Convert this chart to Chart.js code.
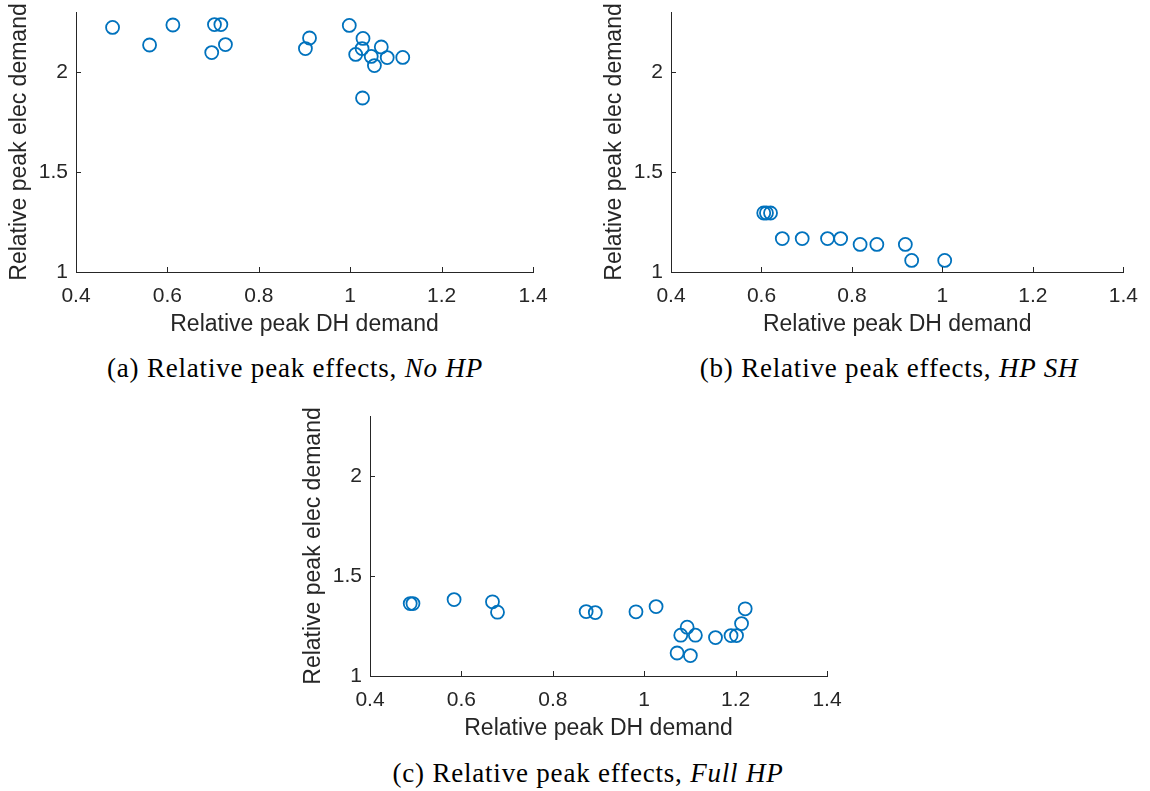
<!DOCTYPE html>
<html>
<head>
<meta charset="utf-8">
<script src="https://cdn.jsdelivr.net/npm/chart.js@4.4.0/dist/chart.umd.min.js"></script>
<style>
  html, body { margin: 0; padding: 0; background: #fff; }
  body { width: 1150px; height: 791px; position: relative; overflow: hidden; }
  .panel { position: absolute; width: 560px; height: 340px; }
  .caption {
    position: absolute;
    transform: translate(-50%, -50%);
    white-space: nowrap;
    font-family: "Liberation Serif", "Times New Roman", serif;
    font-size: 27px;
    letter-spacing: 0.8px;
    color: #000;
  }
</style>
</head>
<body>
<div class="panel" style="left:0;top:0"><canvas id="chart-nohp"></canvas></div>
<div class="panel" style="left:595px;top:0;width:555px"><canvas id="chart-hpsh"></canvas></div>
<div class="panel" style="left:294px;top:404px"><canvas id="chart-fullhp"></canvas></div>

<div class="caption" style="left:295px;top:368px">(a) Relative peak effects, <i>No HP</i></div>
<div class="caption" style="left:889px;top:368px">(b) Relative peak effects, <i>HP SH</i></div>
<div class="caption" style="left:588px;top:773px">(c) Relative peak effects, <i>Full HP</i></div>

<script>
// relative peak DH demand (x) vs relative peak elec demand (y)
const noHpX = [0.480, 0.561, 0.612, 0.703, 0.717, 0.697, 0.727, 0.902, 0.911, 0.998,
               1.028, 1.026, 1.012, 1.046, 1.068, 1.053, 1.081, 1.115, 1.027];
const noHpY = [2.223, 2.135, 2.235, 2.237, 2.237, 2.097, 2.137, 2.117, 2.170, 2.233,
               2.168, 2.117, 2.088, 2.078, 2.125, 2.032, 2.072, 2.073, 1.870];

const hpShX = [0.605, 0.611, 0.620, 0.646, 0.690, 0.746, 0.775, 0.818, 0.855, 0.918, 0.932, 1.005];
const hpShY = [1.295, 1.295, 1.295, 1.167, 1.167, 1.167, 1.167, 1.138, 1.138, 1.138, 1.058, 1.058];

const fullHpX = [0.488, 0.494, 0.584, 0.668, 0.679, 0.873, 0.893, 0.982, 1.026, 1.072,
                 1.080, 1.094, 1.101, 1.112, 1.156, 1.190, 1.202, 1.213, 1.221];
const fullHpY = [1.362, 1.362, 1.382, 1.371, 1.319, 1.322, 1.317, 1.321, 1.347, 1.115,
                 1.204, 1.244, 1.102, 1.204, 1.192, 1.202, 1.202, 1.262, 1.336];

const xRange = [0.4, 1.4];
const xStep = 0.2;
const yRange = [1, 2.3];
const yStep = 0.5;

const xLabel = 'Relative peak DH demand';
const yLabel = 'Relative peak elec demand';

const axisColor = '#262626';
const markerColor = '#0072BD';

Chart.defaults.font.family = '"Liberation Sans", Arial, sans-serif';
Chart.defaults.color = axisColor;

// MATLAB-style tick marks pointing into the plot area
const innerTicks = {
    id: 'innerTicks',
    afterDatasetsDraw(chart) {
        const { ctx, chartArea, scales: { x, y } } = chart;
        ctx.save();
        ctx.strokeStyle = axisColor;
        ctx.lineWidth = 1;
        ctx.beginPath();
        x.ticks.forEach(t => {
            const px = Math.round(x.getPixelForValue(t.value)) + 0.5;
            ctx.moveTo(px, chartArea.bottom);
            ctx.lineTo(px, chartArea.bottom - 5);
        });
        y.ticks.forEach(t => {
            const py = Math.round(y.getPixelForValue(t.value)) + 0.5;
            ctx.moveTo(chartArea.left, py);
            ctx.lineTo(chartArea.left + 5, py);
        });
        ctx.stroke();
        ctx.restore();
    }
};

// 1 instead of 1.0, 1.5 stays 1.5
const plainNumber = v => String(Number(v.toFixed(2)));

function toPoints(xs, ys) {
    return xs.map((v, i) => ({ x: v, y: ys[i] }));
}

function createChart(id, xs, ys, rightPad) {
    const ctx = document.getElementById(id).getContext('2d');
    return new Chart(ctx, {
        type: 'scatter',
        data: {
            datasets: [{
                data: toPoints(xs, ys),
                borderColor: markerColor,
                backgroundColor: 'rgba(0,0,0,0)',
                pointStyle: 'circle',
                pointRadius: 6.5,
                pointBorderWidth: 1.8,
                clip: false
            }]
        },
        options: {
            responsive: true,
            maintainAspectRatio: false,
            animation: false,
            events: [],
            layout: { padding: { top: 12, right: rightPad, left: 0, bottom: 0 } },
            plugins: { legend: { display: false }, tooltip: { enabled: false } },
            scales: {
                x: {
                    type: 'linear',
                    min: xRange[0],
                    max: xRange[1],
                    afterFit(scale) { scale.height = 68; },
                    ticks: { stepSize: xStep, padding: 12, font: { size: 21 }, color: axisColor, maxRotation: 0, callback: plainNumber },
                    grid: { drawOnChartArea: false, drawTicks: false },
                    border: { color: axisColor, width: 1 },
                    title: { display: true, text: xLabel, font: { size: 23 }, color: axisColor, padding: { top: 0, bottom: 2 } }
                },
                y: {
                    type: 'linear',
                    min: yRange[0],
                    max: yRange[1],
                    afterFit(scale) {
                        scale.width = 76;
                        scale.paddingTop = 0;
                        scale.paddingBottom = 0;
                    },
                    ticks: { stepSize: yStep, includeBounds: false, padding: 8, font: { size: 21 }, color: axisColor, callback: plainNumber },
                    grid: { drawOnChartArea: false, drawTicks: false },
                    border: { color: axisColor, width: 1 },
                    title: { display: true, text: yLabel, font: { size: 23 }, color: axisColor, padding: { top: 6, bottom: 0 } }
                }
            }
        },
        plugins: [innerTicks]
    });
}

document.addEventListener('DOMContentLoaded', function() {
    createChart('chart-nohp', noHpX, noHpY, 27);
    createChart('chart-hpsh', hpShX, hpShY, 22);
    createChart('chart-fullhp', fullHpX, fullHpY, 27);
});
</script>
</body>
</html>
